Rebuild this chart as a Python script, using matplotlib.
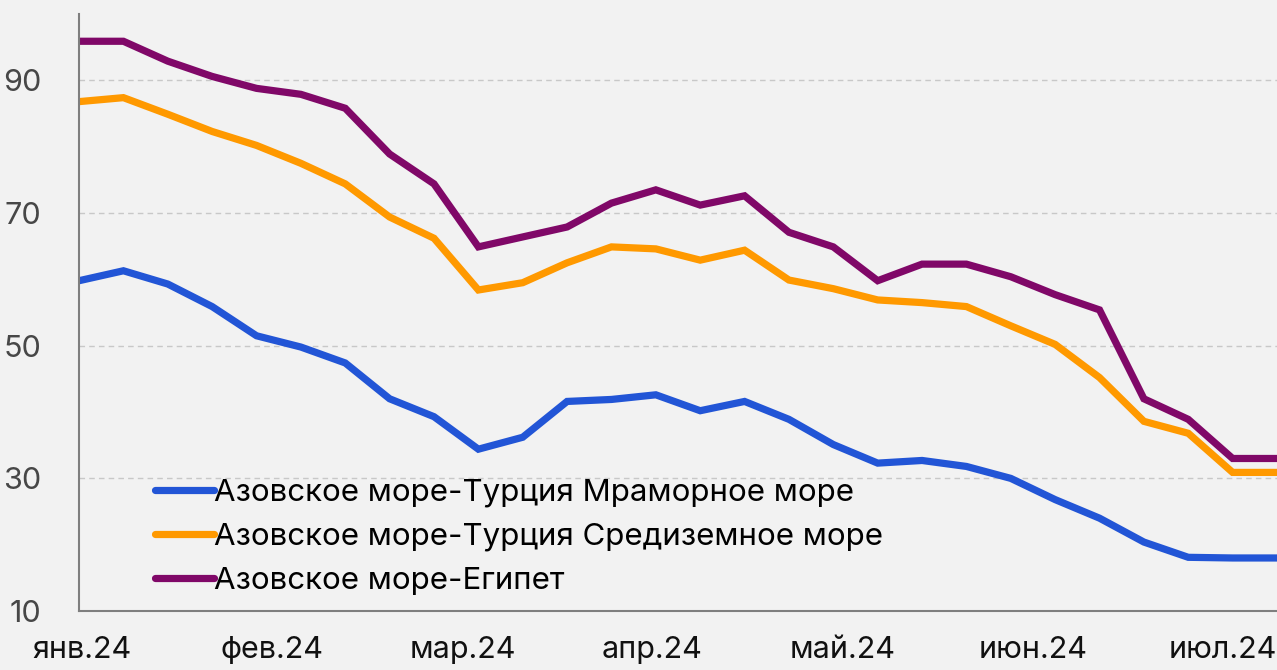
import numpy as np
import matplotlib
matplotlib.use("Agg")
import matplotlib.pyplot as plt

# ------------------------------------- Data (weekly, Jan - Jul 2024) ----#
weeks = np.arange(28)

marmara = [59.8, 61.3, 59.3, 55.9, 51.5, 49.8, 47.4, 42.0, 39.3, 34.4,
           36.2, 41.6, 41.9, 42.6, 40.2, 41.6, 38.9, 35.1, 32.3, 32.7,
           31.8, 30.0, 26.8, 24.0, 20.4, 18.1, 18.0, 18.0]
mediterr = [86.8, 87.4, 84.9, 82.3, 80.2, 77.5, 74.4, 69.4, 66.2, 58.4,
            59.5, 62.5, 64.9, 64.6, 62.9, 64.4, 59.9, 58.6, 56.9, 56.5,
            55.9, 53.0, 50.2, 45.2, 38.6, 36.8, 30.9, 30.9]
egypt = [95.9, 95.9, 92.9, 90.6, 88.8, 87.9, 85.8, 78.9, 74.4, 64.9,
         66.4, 67.9, 71.5, 73.5, 71.2, 72.6, 67.1, 64.9, 59.8, 62.3,
         62.3, 60.4, 57.7, 55.4, 42.0, 38.9, 33.0, 33.0]

labels = ["Азовское море-Турция Мраморное море",
          "Азовское море-Турция Средиземное море",
          "Азовское море-Египет"]
colors = ["#2255d6", "#ff9900", "#800868"]

month_labels = ["янв.24", "фев.24", "мар.24", "апр.24", "май.24", "июн.24", "июл.24"]
month_pos = 0.07 + 4.285 * np.arange(len(month_labels))

y_ticks = [10, 30, 50, 70, 90]

# ------------------------------------- Figure ---------------------------#
plt.rcParams['font.family'] = ['Inter', 'DejaVu Sans']
bg = "#f2f2f2"

fig = plt.figure(figsize=(12.77, 6.70), dpi=100, facecolor=bg)
ax = fig.add_axes([0.0619, 0.088, 0.9381, 0.891], facecolor=bg)

for vals, lab, col in zip([marmara, mediterr, egypt], labels, colors):
    ax.plot(weeks, vals, color=col, lw=5.2, label=lab,
            solid_capstyle='round', solid_joinstyle='miter')

ax.set_xlim(0, 27)
ax.set_ylim(10, 100)
ax.set_yticks(y_ticks)
ax.set_xticks(month_pos)
ax.set_xticklabels(month_labels)

ax.grid(True, axis='y', color='#c8c8c8', linestyle=(0, (4, 3)), lw=1)
ax.set_axisbelow(True)

for s in ['top', 'right']:
    ax.spines[s].set_visible(False)
for s in ['left', 'bottom']:
    ax.spines[s].set_color('#7f7f7f')
    ax.spines[s].set_linewidth(1.5)

ax.tick_params(axis='both', length=0, labelsize=22)
ax.tick_params(axis='y', pad=27, labelcolor='#474747')
ax.tick_params(axis='x', pad=18, labelcolor='#111111')

leg = ax.legend(loc='lower left', bbox_to_anchor=(0.121, 0.112),
                bbox_transform=fig.transFigure, frameon=False,
                fontsize=22.5, handlelength=1.9, handletextpad=0.0,
                labelspacing=0.5, borderpad=0, borderaxespad=0)

fig.savefig("out.png", dpi=100, facecolor=bg)
